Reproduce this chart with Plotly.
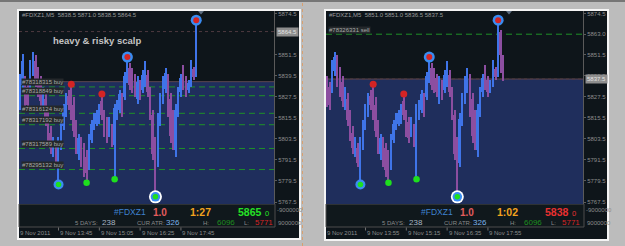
import plotly.graph_objects as go

W, H = 625, 246
FONT = "Liberation Sans, Arial, sans-serif"

# ---------------- data: #FDXZ1 M5 bars, 9 Nov 2011 (bar 0 = 12:30) ----------------
bar_open = [5825, 5834, 5836, 5833, 5833, 5842, 5848, 5841, 5836, 5823,
            5826, 5816, 5807, 5796, 5798, 5790, 5800, 5811, 5819, 5828,
            5831, 5823, 5811, 5795, 5802, 5798, 5793, 5788, 5803, 5810,
            5812, 5815, 5825, 5817, 5813, 5806, 5810, 5800, 5816, 5820,
            5827, 5827, 5837, 5844, 5841, 5838, 5826, 5835, 5831, 5836,
            5840, 5830, 5817, 5800, 5790, 5814, 5826, 5832, 5838, 5826,
            5816, 5797, 5819, 5830, 5843, 5837, 5831, 5835, 5843, 5838.5,
            5864.5, 5851]
bar_high = [5840.5, 5852, 5839, 5836, 5848.5, 5853, 5851, 5844.5, 5839, 5833,
            5829.5, 5820, 5810.5, 5804.5, 5801, 5804.5, 5814, 5823.5, 5829.5, 5831,
            5834.5, 5827.5, 5814, 5806.5, 5804.5, 5801, 5797, 5806.5, 5814, 5818,
            5820, 5823.5, 5829, 5820, 5816, 5816, 5812, 5823.5, 5825.5, 5831,
            5829.5, 5841.5, 5850, 5846.5, 5843.5, 5840.5, 5839, 5837, 5842.5, 5847.5,
            5842.5, 5833, 5820, 5804.5, 5818, 5829.5, 5839, 5843.5, 5840.5, 5829.5,
            5820, 5823.5, 5833, 5840.5, 5845.5, 5839, 5837, 5848.5, 5844.5, 5871,
            5865.5, 5851]
bar_low = [5820, 5829.5, 5821.5, 5820, 5829.5, 5839, 5833, 5827.5, 5821.5, 5820,
           5810.5, 5802.5, 5795, 5793, 5787.5, 5777.5, 5797, 5808.5, 5816, 5820,
           5814, 5804.5, 5795, 5791.5, 5787.5, 5782, 5778.5, 5785.5, 5801, 5808.5,
           5810.5, 5812, 5814, 5804.5, 5801, 5804.5, 5799, 5780.5, 5814, 5818,
           5816, 5825.5, 5835, 5831, 5829.5, 5827.5, 5823.5, 5825.5, 5829.5, 5833,
           5827.5, 5814, 5791.5, 5770.5, 5787.5, 5810.5, 5823.5, 5829.5, 5816, 5801,
           5797, 5793, 5816, 5827.5, 5831, 5827.5, 5829.5, 5833, 5837, 5838.5,
           5841, 5836.5]
bar_close = [5837, 5848, 5825, 5823, 5845, 5850, 5836, 5830, 5825, 5830,
             5814, 5806, 5798, 5802, 5790, 5801, 5811, 5820, 5827, 5823,
             5817, 5808, 5798, 5804, 5791, 5786, 5784, 5804, 5812, 5816,
             5818, 5821, 5817, 5807, 5804, 5814, 5802, 5821, 5823, 5829,
             5819, 5839, 5846, 5834, 5832, 5830, 5836, 5828, 5840, 5845,
             5830, 5817, 5795, 5778, 5815, 5827, 5836, 5841, 5819, 5805,
             5800, 5820, 5830, 5838, 5834, 5830, 5835, 5845, 5838.5, 5864.5,
             5851, 5837.5]

# zigzag marker bars
mk_high_dot = [20, 32]
mk_high_ring = [42, 69]
mk_low_dot = [26, 37]
mk_low_ring = [15]
mk_low_white = [53]

# price axis labels
left_ticks = [5874.5, 5851.5, 5839.5, 5827.5, 5815.5, 5803.5, 5791.5, 5779.5, 5767.5]
right_ticks = [5874.5, 5863.0, 5851.5, 5839.5, 5827.5, 5815.5, 5803.5, 5791.5, 5779.5, 5767.5]

# order lines
left_orders = [5833.0, 5828.0, 5818.0, 5811.5, 5798.0, 5786.0]
left_order_labels = ["#78318315 buy", "#78318849 buy", "#78316124 buy",
                     "#78317192 buy", "#78317589 buy", "#78295132 buy"]
right_orders = [5863.0]
right_order_labels = ["#78326331 sell"]

# zone tops
left_zone_top = 5836.0
right_zone_top = 5837.5

# time axis
left_time_bars = [15, 31, 47, 63]
left_time_labels = ["9 Nov 13:45", "9 Nov 15:05", "9 Nov 16:25", "9 Nov 17:45"]
right_time_bars = [17, 33, 49, 65]
right_time_labels = ["9 Nov 13:55", "9 Nov 15:15", "9 Nov 16:35", "9 Nov 17:55"]

left_title = "#FDXZ1,M5  5838.5 5871.0 5838.5 5864.5"
right_title = "#FDXZ1,M5  5851.0 5851.0 5836.5 5837.5"

# info panel values
left_info = dict(spread="1.0", timer="1:27", price="5865", pchg="0", pcol="#25e025")
right_info = dict(spread="1.0", timer="1:02", price="5838", pchg="0", pcol="#e83030")
days_val, atr_val, hi_val, lo_val = "238", "326", "6096", "5771"

# ---------------- styling ----------------
BULL = "#3f74e8"
BEAR = "#8c4ea0"
DARK = "#0e151a"
ZONE = "#1f2e5c"
YR = [5766.4, 5876.2]


def X(px):
    return px / W


def Y(py):
    return 1 - py / H


fig = go.Figure()
shapes = []
annos = []


def txt(x, y, s, size, color, bold=False, anchor="left", fam=FONT):
    annos.append(dict(x=X(x), y=Y(y), xref="paper", yref="paper",
                      text=("<b>%s</b>" % s if bold else s), showarrow=False,
                      xanchor=anchor, yanchor="middle", borderpad=0,
                      font=dict(size=size, color=color, family=fam)))


def rect(x0, y0, x1, y1, fill, line=None, lw=0):
    shapes.append(dict(type="rect", xref="paper", yref="paper",
                       x0=X(x0), x1=X(x1), y0=Y(y1), y1=Y(y0),
                       fillcolor=fill, line=dict(width=lw, color=line or fill),
                       layer="below"))


# outer decoration
rect(0, 0, 625, 2, "#767676")
shapes.append(dict(type="line", xref="paper", yref="paper", x0=X(302.5), x1=X(302.5),
                   y0=0, y1=1, line=dict(color="#d8a070", width=1, dash="dot"), layer="below"))

panels = [
    dict(n=70, xa="x", ya="y", xr=[-0.5, 99.5], fx0=17, fy0=9, fx1=301, fy1=240,
         px0=19, px1=274, dx1=299, dy1=238, ticks=left_ticks, zone=left_zone_top,
         orders=left_orders, olabels=left_order_labels, tbars=left_time_bars,
         tlabels=left_time_labels, title=left_title, info=left_info, off=0, tri=201),
    dict(n=72, xa="x2", ya="y2", xr=[1.5, 1.5 + 257 / 2.55], fx0=324, fy0=9, fx1=609, fy1=241,
         px0=326, px1=583, dx1=607, dy1=239, ticks=right_ticks, zone=right_zone_top,
         orders=right_orders, olabels=right_order_labels, tbars=right_time_bars,
         tlabels=right_time_labels, title=right_title, info=right_info, off=307, tri=509),
]

for k, p in enumerate(panels):
    xa, ya = p["xa"], p["ya"]
    xd = xa + " domain"
    n = p["n"]
    # frame and background
    rect(p["fx0"], p["fy0"], p["fx1"], p["fy1"], "#f4f4f4")
    rect(p["px0"], 11, p["dx1"], p["dy1"], DARK)
    # info panel
    rect(p["px0"], 204, p["px1"] + 1, 227, "#10181c", "#4c4c4c", 1)
    # blue zone (data coords)
    shapes.append(dict(type="rect", xref=xd, yref=ya, x0=0, x1=1, y0=YR[0], y1=p["zone"],
                       fillcolor=ZONE, line=dict(width=0), layer="below"))
    shapes.append(dict(type="line", xref=xd, yref=ya, x0=0, x1=1, y0=p["zone"], y1=p["zone"],
                       line=dict(color="#5c4550", width=1), layer="below"))
    # bid line
    bid = bar_close[n - 1]
    shapes.append(dict(type="line", xref=xd, yref=ya, x0=0, x1=1, y0=bid, y1=bid,
                       line=dict(color="#4e3a40", width=1, dash="dot"), layer="below"))
    # order lines
    for pr, lab in zip(p["orders"], p["olabels"]):
        shapes.append(dict(type="line", xref=xd, yref=ya, x0=0, x1=1, y0=pr, y1=pr,
                           line=dict(color="#1f9228", width=1, dash="6px,4px"), layer="below"))
        annos.append(dict(x=X(p["px0"] + 2), y=pr, xref="paper", yref=ya, text=lab,
                          showarrow=False, xanchor="left", yanchor="bottom", yshift=0.5,
                          bgcolor="#24282b", borderpad=0,
                          font=dict(size=6, color="#a8a8a8", family=FONT)))
    # bars
    idx = list(range(n))
    o, h, l, c = bar_open[:n], bar_high[:n], bar_low[:n], bar_close[:n]
    cols = [BULL if cc >= oo else BEAR for oo, cc in zip(o, c)]
    fig.add_trace(go.Bar(x=idx, base=l, y=[hh - ll for hh, ll in zip(h, l)], width=0.42,
                         marker=dict(color=cols, line=dict(width=0)), xaxis=xa, yaxis=ya,
                         hoverinfo="skip"))
    fig.add_trace(go.Bar(x=idx, base=[min(a, b) for a, b in zip(o, c)],
                         y=[max(abs(b - a), 0.6) for a, b in zip(o, c)], width=0.75,
                         marker=dict(color=cols, line=dict(width=0)), xaxis=xa, yaxis=ya,
                         hoverinfo="skip"))

    def mk(ids, vals, size, color):
        fig.add_trace(go.Scatter(x=ids, y=[vals[i] for i in ids], mode="markers",
                                 marker=dict(size=size, color=color, line=dict(width=0)),
                                 xaxis=xa, yaxis=ya, hoverinfo="skip", cliponaxis=False))

    mk(mk_high_ring, bar_high, 11, "#3a8cf2")
    mk(mk_high_ring, bar_high, 6, "#d42424")
    mk(mk_high_dot, bar_high, 7, "#d42424")
    mk(mk_low_white, bar_low, 13, "#ffffff")
    mk(mk_low_white, bar_low, 9.5, "#3a8cf2")
    mk(mk_low_ring, bar_low, 10, "#3a8cf2")
    mk(mk_low_white + mk_low_ring, bar_low, 5.5, "#1ee01e")
    mk(mk_low_dot, bar_low, 6.5, "#1ee01e")

    # axes
    xkey = "xaxis" if k == 0 else "xaxis2"
    ykey = "yaxis" if k == 0 else "yaxis2"
    fig.update_layout(**{
        xkey: dict(domain=[X(p["px0"]), X(p["px1"])], range=p["xr"], anchor=ya,
                   showticklabels=False, showgrid=False, zeroline=False, showline=False,
                   ticks="", fixedrange=True),
        ykey: dict(domain=[Y(204), Y(11)], range=YR, anchor=xa, side="right",
                   tickvals=p["ticks"], ticktext=["%.1f" % t for t in p["ticks"]],
                   ticks="outside", ticklen=2, tickcolor="#5a5a5a", showline=True,
                   linecolor="#5a5a5a", linewidth=1, showgrid=False, zeroline=False,
                   tickfont=dict(size=6, color="#8c8c8c", family=FONT), fixedrange=True),
    })
    # bid box
    annos.append(dict(x=X(p["px1"] + 1.5), y=bid, xref="paper", yref=ya, text="%.1f" % bid,
                      showarrow=False, xanchor="left", yanchor="middle", bgcolor="#8e8e8e",
                      borderpad=1, font=dict(size=6, color="#e4e4e4", family=FONT)))
    # shift triangle
    t = p["tri"]
    shapes.append(dict(type="path", xref="paper", yref="paper",
                       path="M %f %f L %f %f L %f %f Z" % (X(t - 3), Y(11), X(t + 3), Y(11), X(t), Y(14.5)),
                       fillcolor="#5d6d80", line=dict(width=0)))
    # chart title
    txt(p["px0"] + 2, 15, p["title"], 6, "#9a9a9a")
    # time axis
    txt(p["px0"], 233, "9 Nov 2011", 6, "#8c8c8c")
    for b, lab in zip(p["tbars"], p["tlabels"]):
        shapes.append(dict(type="line", xref=xa, yref="paper", x0=b, x1=b,
                           y0=Y(230.5), y1=Y(227.5), line=dict(color="#707070", width=1)))
        annos.append(dict(x=b, y=Y(233), xref=xa, yref="paper", text=lab, showarrow=False,
                          xanchor="left", yanchor="middle", xshift=0.5, borderpad=0,
                          font=dict(size=6, color="#8c8c8c", family=FONT)))
    # indicator axis labels
    txt(p["px1"] + 2, 209.5, "-9000000", 6, "#8c8c8c")
    txt(p["px1"] + 3, 223, "9000000", 6, "#8c8c8c")
    # info panel texts
    o_ = p["off"]
    inf = p["info"]
    txt(113 + o_, 212, "#FDXZ1", 8.5, "#3f82d0")
    txt(152 + o_, 212, inf["spread"], 10, "#e25c5c", bold=True)
    txt(189 + o_, 212, inf["timer"], 10.5, "#f2a21e", bold=True)
    txt(237 + o_, 212, inf["price"], 10.5, inf["pcol"], bold=True)
    txt(264 + o_, 213, inf["pchg"], 7.5, inf["pcol"])
    txt(74 + o_, 223, "5 DAYS:", 6, "#8a8a8a")
    txt(101 + o_, 222.5, days_val, 8, "#a8b4c2")
    txt(136 + o_, 223, "CUR ATR:", 6, "#8a8a8a")
    txt(165 + o_, 222.5, atr_val, 8, "#7cb2ea")
    txt(202 + o_, 223, "H:", 6, "#8a8a8a")
    txt(216 + o_, 222.5, hi_val, 8, "#1e8e1e")
    txt(243 + o_, 223, "L:", 6, "#8a8a8a")
    txt(254 + o_, 222.5, lo_val, 8, "#d82424")

# headline
txt(52, 40.5, "heavy &amp; risky scalp", 9.5, "#c4c4c4", bold=True)

fig.update_layout(width=W, height=H, margin=dict(l=0, r=0, t=0, b=0),
                  paper_bgcolor="#bcbcbc", plot_bgcolor="rgba(0,0,0,0)",
                  showlegend=False, barmode="overlay", bargap=0,
                  shapes=shapes, annotations=annos)

fig.write_html("out.html")
